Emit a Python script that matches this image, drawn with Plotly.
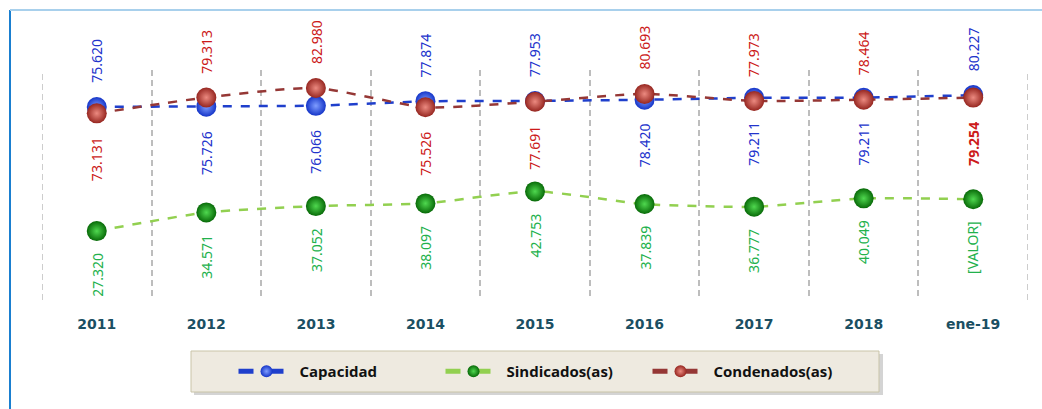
import plotly.graph_objects as go

categories = ["2011", "2012", "2013", "2014", "2015", "2016", "2017", "2018", "ene-19"]
capacidad = [75.620, 75.726, 76.066, 77.874, 77.953, 78.420, 79.211, 79.211, 80.227]
sindicados = [27.320, 34.571, 37.052, 38.097, 42.753, 37.839, 36.777, 40.049, 39.7]
sindicados_labels = ["27.320", "34.571", "37.052", "38.097", "42.753", "37.839", "36.777", "40.049", "[VALOR]"]
condenados = [73.131, 79.313, 82.980, 75.526, 77.691, 80.693, 77.973, 78.464, 79.254]

# label placement (style): +1 above the marker, -1 below
cap_side = [1, -1, -1, 1, 1, -1, -1, -1, 1]
con_side = [-1, 1, 1, -1, -1, 1, 1, 1, -1]
sin_side = [-1] * 9
con_bold = [False] * 8 + [True]

FONT = "Noto Sans"

fig = go.Figure()

series = [
    ("Capacidad", capacidad, "#1535c8", "#7f9dff", "#1f3fcc", "linear"),
    ("Sindicados(as)", sindicados, "#086a08", "#4fd84f", "#92d050", "spline"),
    ("Condenados(as)", condenados, "#962620", "#ec8a80", "#953735", "spline"),
]
for name, vals, mcol, gcol, lcol, shape in series:
    fig.add_trace(go.Scatter(
        x=categories, y=vals, name=name, mode="lines+markers",
        line=dict(color=lcol, width=2.5, dash="dash", shape=shape, smoothing=0.6),
        marker=dict(size=20, color=mcol, gradient=dict(type="radial", color=gcol),
                    line=dict(width=0)),
        cliponaxis=False,
    ))

def add_labels(vals, texts, sides, color, bold=None, gap=22):
    for i, (v, t, s) in enumerate(zip(vals, texts, sides)):
        txt = f"<b>{t}</b>" if (bold and bold[i]) else t
        fig.add_annotation(
            x=i, y=v, xref="x", yref="y", text=txt, textangle=-90, showarrow=False,
            xanchor="center", yanchor="bottom" if s > 0 else "top",
            yshift=gap if s > 0 else -gap,
            font=dict(family=FONT, size=14, color=color),
        )

add_labels(capacidad, [f"{v:.3f}" for v in capacidad], cap_side, "#2233cc")
add_labels(condenados, [f"{v:.3f}" for v in condenados], con_side, "#cc1a1a", con_bold)
add_labels(sindicados, sindicados_labels, sin_side, "#22b14c", gap=20)

# edge gridlines
for xe in (-0.5, len(categories) - 0.5):
    fig.add_shape(type="line", xref="x", yref="paper", x0=xe, x1=xe, y0=0, y1=1,
                  line=dict(color="#bdbdbd", width=1.5, dash="6px,4px"), layer="below")

# legend box with shadow
fig.add_shape(type="rect", xref="paper", yref="paper",
              x0=(194 - 42) / 986, x1=(883 - 42) / 986,
              y0=(300 - 395) / 230, y1=(300 - 354) / 230,
              fillcolor="#b8b8b8", line=dict(width=0), layer="below", opacity=0.6)
fig.add_shape(type="rect", xref="paper", yref="paper",
              x0=(191 - 42) / 986, x1=(879 - 42) / 986,
              y0=(300 - 392) / 230, y1=(300 - 351) / 230,
              fillcolor="#eeeae0", line=dict(color="#c9c4a8", width=1), layer="below")
# outer frame lines
fig.add_shape(type="line", xref="paper", yref="paper",
              x0=(10 - 42) / 986, x1=(10 - 42) / 986, y0=(300 - 409) / 230, y1=(300 - 10) / 230,
              line=dict(color="#1a7fd0", width=2))
fig.add_shape(type="line", xref="paper", yref="paper",
              x0=(10 - 42) / 986, x1=(1042 - 42) / 986, y0=(300 - 10) / 230, y1=(300 - 10) / 230,
              line=dict(color="#a8d0ec", width=2))

fig.update_layout(
    width=1042, height=409,
    margin=dict(l=42, r=14, t=70, b=109),
    paper_bgcolor="white", plot_bgcolor="white",
    showlegend=True,
    legend=dict(orientation="h", x=0.5 + 9 / 986, xanchor="center", y=(300 - 371.5) / 230, yanchor="middle",
                bgcolor="rgba(0,0,0,0)", font=dict(family="Open Sans", size=15, color="#111111", weight="bold"),
                itemwidth=56, entrywidth=136, itemsizing="constant", traceorder="normal"),
    xaxis=dict(type="category", range=[-0.5, 8.5], tickson="boundaries",
               showgrid=True, gridcolor="#bdbdbd", gridwidth=1.5, griddash="6px,4px",
               showline=False, zeroline=False, ticks="", ticklabelstandoff=14,
               tickfont=dict(family="DejaVu Sans", size=14, color="#1b4f63", weight="bold")),
    yaxis=dict(range=[0.5, 90], showgrid=False, showticklabels=False, zeroline=False, showline=False),
)

fig.write_html("out.html", config={"displayModeBar": False},
               post_script="document.body.style.margin='0';document.body.style.overflow='hidden';")
